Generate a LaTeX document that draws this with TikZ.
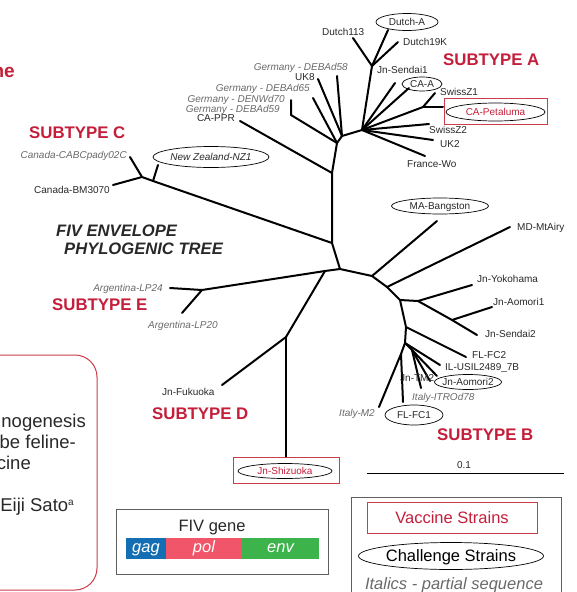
\documentclass[tikz,border=0pt]{standalone}
\usepackage{fontspec}
\setmainfont{Liberation Sans}
\usetikzlibrary{shapes.geometric}
\definecolor{subred}{RGB}{196,30,58}
\definecolor{boxred}{RGB}{205,60,75}
\definecolor{txt}{RGB}{40,40,40}
\definecolor{itg}{RGB}{105,105,105}
\definecolor{gagc}{RGB}{20,110,180}
\definecolor{polc}{RGB}{240,85,105}
\definecolor{envc}{RGB}{60,180,75}
\definecolor{frameg}{RGB}{95,95,95}
\begin{document}
\begin{tikzpicture}[x=1pt,y=-1pt,
  br/.style={line width=2pt, black, line cap=round, line join=round},
  lbl/.style={font=\fontsize{10}{12}\selectfont, text=txt, inner sep=0pt, text height=7.2pt, text depth=0pt},
  ilbl/.style={lbl, font=\fontsize{10}{12}\selectfont\itshape, text=itg},
  sub/.style={font=\fontsize{16.8}{18}\selectfont\bfseries, text=subred, inner sep=0pt, text height=12pt, text depth=0pt},
  ttl/.style={font=\fontsize{16.6}{18}\selectfont\bfseries\itshape, text=txt, inner sep=0pt, text height=12pt, text depth=0pt},
  para/.style={font=\fontsize{18.5}{20}\selectfont, text=txt, inner sep=0pt},
  leg/.style={font=\fontsize{16.5}{18}\selectfont, inner sep=0pt, text height=11.8pt, text depth=0pt},
  oval/.style={ellipse, draw=black, line width=0.7pt, inner sep=0pt},
  redbox/.style={draw=boxred, line width=0.8pt, inner sep=0pt},
  bar/.style={inner sep=0pt, minimum height=21pt, text=white, font=\fontsize{16.5}{18}\selectfont\itshape, text height=8.6pt, text depth=0pt}
]
\useasboundingbox (0,0) rectangle (577,592);
\clip (0,0) rectangle (577,592);

% left panel (cut off)
\node[anchor=base east, font=\fontsize{19}{20}\selectfont\bfseries, text=subred, inner sep=0pt] (ne) at (15,77) {ne};
\node[draw=boxred, line width=1pt, rounded corners=22pt, minimum width=147pt, minimum height=235pt, inner sep=0pt] (leftbox) at (23.5,472.5) {};
\node[para, anchor=base east] (p1) at (86,427) {nogenesis};
\node[para, anchor=base east] (p2) at (76,448) {be feline-};
\node[para, anchor=base east] (p3) at (31,469) {cine};
\node[para, anchor=base east] (p4) at (74,511) {Eiji Sato\raisebox{6pt}{\fontsize{10}{10}\selectfont a}};

% title
\node[ttl, anchor=west] (t1) at (56,230) {FIV ENVELOPE};
\node[ttl, anchor=west] (t2) at (64,248) {PHYLOGENIC TREE};

% subtype labels
\node[sub, anchor=west] (sA) at (443,59) {SUBTYPE A};
\node[sub, anchor=west] (sC) at (29,132) {SUBTYPE C};
\node[sub, anchor=west] (sE) at (52,304) {SUBTYPE E};
\node[sub, anchor=west] (sD) at (152,413) {SUBTYPE D};
\node[sub, anchor=west] (sB) at (437,434) {SUBTYPE B};

% tree coordinates
\coordinate (c0) at (340,269);
\coordinate (cX) at (325,271);
\coordinate (cE) at (202,290);
\coordinate (tLP24) at (170,288);
\coordinate (tLP20) at (182,313);
\coordinate (cD) at (286,337);
\coordinate (tFuk) at (222,385);
\coordinate (tShiz) at (286,457);
\coordinate (cV) at (332,243);
\coordinate (cC2) at (153,181);
\coordinate (cC1) at (142,177);
\coordinate (tBM) at (113,185);
\coordinate (tCABC) at (130,157);
\coordinate (tNZ) at (158,165);
\coordinate (cT) at (332,173);
\coordinate (tPPR) at (240,121);
\coordinate (n2) at (337,143);
\coordinate (nG) at (291,115);
\coordinate (tDENW) at (291,100);
\coordinate (tD65) at (313,98);
\coordinate (n3) at (342,136);
\coordinate (tUK8) at (318,79);
\coordinate (tD58) at (337,76);
\coordinate (a0) at (362,130);
\coordinate (aD) at (372,66);
\coordinate (tD113) at (353,38);
\coordinate (tDA) at (388,30);
\coordinate (tD19) at (398,42);
\coordinate (tSen1) at (395,83);
\coordinate (tCAA) at (409,88);
\coordinate (aP) at (423,107);
\coordinate (tSZ1) at (435,93);
\coordinate (tPet) at (443,107);
\coordinate (tSZ2) at (429,124);
\coordinate (tUK2) at (433,140);
\coordinate (tFW) at (425,156);
\coordinate (m1) at (372,276);
\coordinate (tMA) at (437,221);
\coordinate (m2) at (387,287);
\coordinate (tMD) at (510,227);
\coordinate (m3) at (400,300);
\coordinate (m4) at (418,301);
\coordinate (tYok) at (472,285);
\coordinate (mA) at (452,320);
\coordinate (tAom1) at (492,307);
\coordinate (tSen2) at (477,335);
\coordinate (m5) at (406,327);
\coordinate (tFC2) at (466,357);
\coordinate (b1) at (405,343);
\coordinate (tIL) at (440,365);
\coordinate (b2) at (401,354);
\coordinate (tM2) at (379,407);
\coordinate (tFC1) at (403,402);
\coordinate (b3) at (412,350);
\coordinate (tITR) at (421,388);
\coordinate (tTM2) at (430,381);
\coordinate (tAom2) at (437,376);

% branches
\draw[br] (cE)--(cX)--(c0)--(m1)--(m2)--(m3)--(m5)--(b1);
\draw[br] (cE)--(tLP24);
\draw[br] (cE)--(tLP20);
\draw[br] (cX)--(cD);
\draw[br] (cD)--(tFuk);
\draw[br] (cD)--(tShiz);
\draw[br] (c0)--(cV)--(cT);
\draw[br] (cV)--(cC2)--(cC1)--(tBM);
\draw[br] (cC1)--(tCABC);
\draw[br] (cC2)--(tNZ);
\draw[br] (cT)--(tPPR);
\draw[br] (cT)--(n2)--(nG)--(tDENW);
\draw[br] (n2)--(tD65);
\draw[br] (n2)--(n3);
\draw[br] (n3)--(tUK8);
\draw[br] (n3)--(tD58);
\draw[br] (n3)--(a0);
\draw[br] (a0)--(aD)--(tD113);
\draw[br] (aD)--(tDA);
\draw[br] (aD)--(tD19);
\draw[br] (a0)--(tSen1);
\draw[br] (a0)--(tCAA);
\draw[br] (a0)--(aP)--(tSZ1);
\draw[br] (aP)--(tPet);
\draw[br] (a0)--(tSZ2);
\draw[br] (a0)--(tUK2);
\draw[br] (a0)--(tFW);
\draw[br] (m1)--(tMA);
\draw[br] (m2)--(tMD);
\draw[br] (m3)--(m4)--(tYok);
\draw[br] (m4)--(mA)--(tSen2);
\draw[br] (mA)--(tAom1);
\draw[br] (m5)--(tFC2);
\draw[br] (b1)--(tIL);
\draw[br] (b1)--(b2)--(tM2);
\draw[br] (b2)--(tFC1);
\draw[br] (b1)--(b3)--(tITR);
\draw[br] (b3)--(tTM2);
\draw[br] (b3)--(tAom2);

% subtype A labels
\node[lbl, anchor=west] (lD113) at (322,32) {Dutch113};
\node[oval, minimum width=62pt, minimum height=17pt] (eDA) at (407,22) {};
\node[lbl] (lDA) at (eDA) {Dutch-A};
\node[lbl, anchor=west] (lD19) at (403,42) {Dutch19K};
\node[lbl, anchor=west] (lSen1) at (377,70) {Jn-Sendai1};
\node[oval, minimum width=40pt, minimum height=14pt] (eCAA) at (422,84) {};
\node[lbl] (lCAA) at (eCAA) {CA-A};
\node[lbl, anchor=west] (lSZ1) at (440,92) {SwissZ1};
\node[redbox, minimum width=103pt, minimum height=26pt] (bPet) at (495.5,111) {};
\node[oval, minimum width=99pt, minimum height=18pt] (ePet) at (495.5,112) {};
\node[lbl, text=subred] (lPet) at (ePet) {CA-Petaluma};
\node[lbl, anchor=west] (lSZ2) at (429,130) {SwissZ2};
\node[lbl, anchor=west] (lUK2) at (440,144) {UK2};
\node[lbl, anchor=west] (lFW) at (407,164) {France-Wo};
\node[ilbl, anchor=east] (lD58) at (348,67) {Germany - DEBAd58};
\node[lbl, anchor=west] (lUK8) at (295,77) {UK8};
\node[ilbl, anchor=east] (lD65) at (310,88) {Germany - DEBAd65};
\node[ilbl, anchor=east] (lDENW) at (285,99) {Germany - DENWd70};
\node[ilbl, anchor=east] (lD59) at (280,109) {Germany - DEBAd59};
\node[lbl, anchor=east] (lPPR) at (235,118) {CA-PPR};

% subtype C labels
\node[ilbl, anchor=east] (lCABC) at (127,155) {Canada-CABCpady02C};
\node[oval, minimum width=116pt, minimum height=21pt] (eNZ) at (211,157) {};
\node[lbl, font=\fontsize{10}{12}\selectfont\itshape] (lNZ) at (eNZ) {New Zealand-NZ1};
\node[lbl, anchor=east] (lBM) at (110,190) {Canada-BM3070};

% subtype E, D labels
\node[ilbl, anchor=east] (lLP24) at (163,288) {Argentina-LP24};
\node[ilbl, anchor=west] (lLP20) at (148,325) {Argentina-LP20};
\node[lbl, anchor=west] (lFuk) at (162,392) {Jn-Fukuoka};
\node[redbox, minimum width=106pt, minimum height=26pt] (bShiz) at (286,470) {};
\node[oval, minimum width=94pt, minimum height=15pt] (eShiz) at (285,471) {};
\node[lbl, text=subred] (lShiz) at (eShiz) {Jn-Shizuoka};

% subtype B / Japan labels
\node[oval, minimum width=97pt, minimum height=16pt] (eMA) at (440,206) {};
\node[lbl] (lMA) at (eMA) {MA-Bangston};
\node[lbl, anchor=west] (lMD) at (517,227) {MD-MtAiry};
\node[lbl, anchor=west] (lYok) at (477,279) {Jn-Yokohama};
\node[lbl, anchor=west] (lAom1) at (493,302) {Jn-Aomori1};
\node[lbl, anchor=west] (lSen2) at (485,334) {Jn-Sendai2};
\node[lbl, anchor=west] (lFC2) at (472,355) {FL-FC2};
\node[lbl, anchor=west] (lIL) at (445,367) {IL-USIL2489\_7B};
\node[lbl, anchor=west] (lTM2) at (400,378) {Jn-TM2};
\node[oval, minimum width=67pt, minimum height=15pt] (eAom2) at (468,382) {};
\node[lbl] (lAom2) at (eAom2) {Jn-Aomori2};
\node[ilbl, anchor=west] (lITR) at (412,397) {Italy-ITROd78};
\node[ilbl, anchor=east] (lM2) at (375,413) {Italy-M2};
\node[oval, minimum width=58pt, minimum height=20pt] (eFC1) at (414,415) {};
\node[lbl] (lFC1) at (eFC1) {FL-FC1};

% scale bar
\coordinate (s1) at (367,473);
\coordinate (s2) at (564,473);
\draw[line width=1pt] (s1)--(s2);
\node[lbl] (lscale) at (464,465) {0.1};

% gene legend
\node[draw=frameg, line width=0.9pt, minimum width=212pt, minimum height=65pt, inner sep=0pt] (gbox) at (222,541.5) {};
\node[leg, text=txt] (gtitle) at (212,526) {FIV gene};
\node[bar, fill=gagc, minimum width=40pt] (gag) at (146,548.5) {gag};
\node[bar, fill=polc, minimum width=76pt] (pol) at (204,548.5) {pol};
\node[bar, fill=envc, minimum width=77pt] (env) at (280.5,548.5) {env};

% strain legend
\node[draw=frameg, line width=0.9pt, minimum width=210pt, minimum height=110pt, inner sep=0pt] (sbox) at (456,552) {};
\node[redbox, minimum width=170pt, minimum height=31pt] (vbox) at (452,517.5) {};
\node[leg, text=subred] (vtxt) at (vbox) {Vaccine Strains};
\node[oval, minimum width=185pt, minimum height=27pt] (cell) at (451,556) {};
\node[leg, text=black] (ctxt) at (cell) {Challenge Strains};
\node[leg, text=itg, font=\fontsize{16.5}{18}\selectfont\itshape] (itxt) at (454,584) {Italics - partial sequence};
\end{tikzpicture}
\end{document}
